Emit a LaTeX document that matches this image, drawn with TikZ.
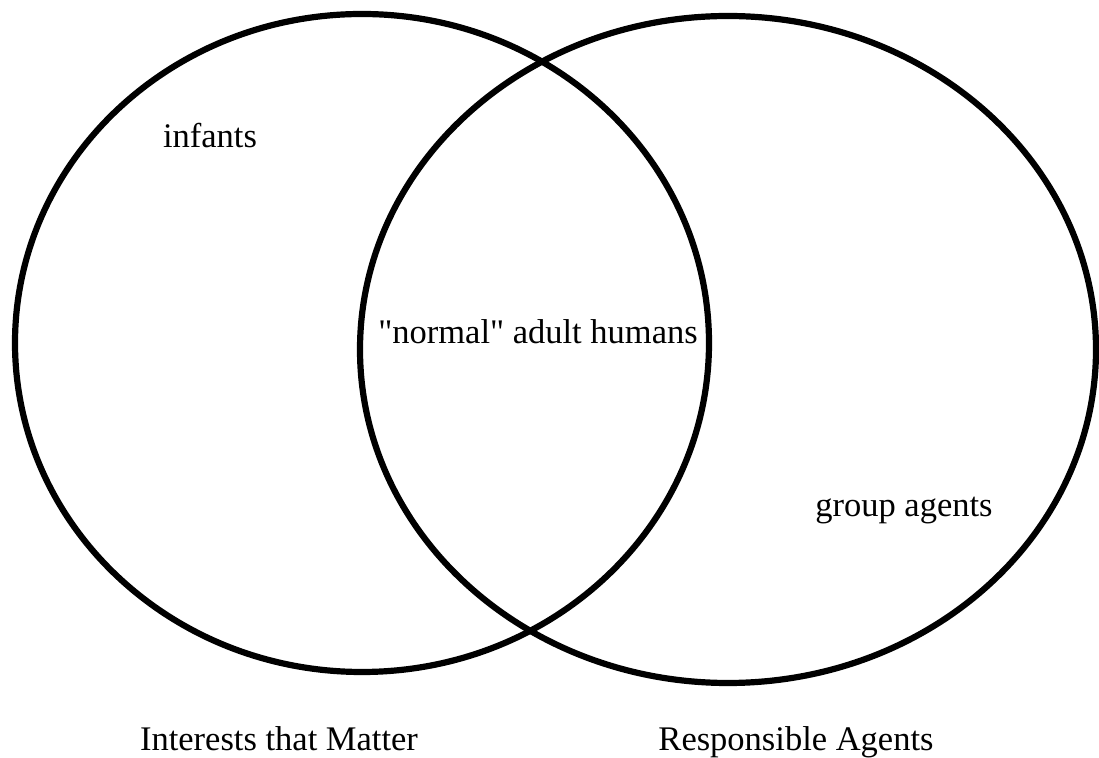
\documentclass[tikz,border=0pt]{standalone}
\usepackage{fontspec}
\setmainfont{Liberation Serif}
\begin{document}
\begin{tikzpicture}[x=0.5pt,y=-0.5pt,
    lbl/.style={anchor=base,inner sep=0pt,font=\fontsize{17.25}{20}\selectfont}]
            \useasboundingbox (0,0) rectangle (1099,758);

            \draw[line width=3.1pt] (362,343) ellipse [x radius=173.5pt, y radius=164.5pt];
            \draw[line width=3.1pt] (728,349.5) ellipse [x radius=184pt, y radius=166.75pt];

            \node[lbl] (inf) at (210,148) {infants};
            \node[lbl] (adu) at (538,344) {\textquotedbl normal\textquotedbl{} adult humans};
            \node[lbl] (grp) at (904,517) {group agents};
            \node[lbl] (itm) at (279,751) {Interests that Matter};
            \node[lbl] (rag) at (796,751) {Responsible Agents};
        \end{tikzpicture}
\end{document}
